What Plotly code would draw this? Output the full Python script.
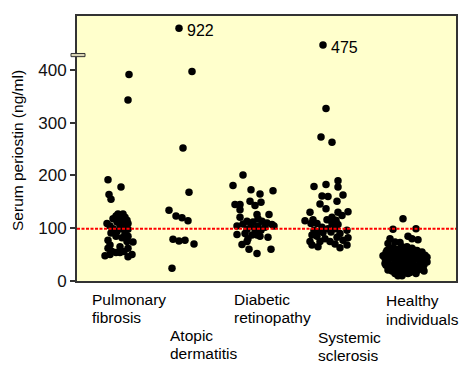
import plotly.graph_objects as go

# ---------------- data ----------------
GROUPS = ["Pulmonary fibrosis", "Atopic dermatitis", "Diabetic retinopathy",
          "Systemic sclerosis", "Healthy individuals"]
GROUP_X = [41, 105, 177, 250, 328]          # group centre on the x scale

PF_VALUES = [391, 343, 192, 178, 164, 155, 127, 127, 123, 121, 118, 118, 115, 112, 112,
             109, 109, 104, 104, 102, 99, 99, 98, 94, 91, 90, 85, 85, 82, 77, 75, 74,
             68, 65, 62, 62, 56, 56, 54, 54, 48, 50, 50, 46]
PF_JITTER = [11, 10, -10, 3, -9, -7, 0, 5, -2, 7, -5, 2, 9, -1, 4,
             -11, 10, -8, 2, 7, -5, 4, 10, -1, -7, 7, -2, 10, 4, -10, 9, 15,
             -8, 2, -10, 10, -6, 6, -2, 2, -13, -8, 14, 10]

AD_VALUES = [479, 397, 252, 168, 134, 123, 120, 114, 79, 76, 77, 70, 24]
AD_JITTER = [-3, 10, 1, 7, -13, -6, 0, 6, -9, -3, 3, 12, -10]

DR_VALUES = [201, 181, 173, 171, 165, 151, 149, 145, 145, 143, 135, 126, 126, 121, 118,
             113, 112, 113, 110, 108, 107, 104, 104, 104, 102, 104, 98, 98, 96, 88, 90,
             87, 87, 85, 83, 80, 69, 75, 60, 52, 60]
DR_JITTER = [-11, -21, -3, 19, 6, -4, 7, -19, -14, 1, -14, 15, 3, -14, 4,
             -7, -1, 8, 13, -11, 18, -17, -3, 4, 11, 20, 1, -7, 7, -17, -9,
             -2, 3, 6, 14, -6, -12, -7, -5, 3, 17]

SS_VALUES = [447, 327, 273, 263, 179, 183, 190, 178, 161, 160, 163, 151, 146, 137, 130,
             130, 131, 124, 121, 114, 116, 116, 115, 109, 109, 109, 107, 102, 99, 99, 96,
             96, 93, 92, 93, 90, 87, 85, 83, 80, 82, 75, 75, 75, 77, 70, 68, 65, 68, 63]
SS_JITTER = [-4, -1, -6, 5, -13, -1, 11, 11, -5, 1, 16, 10, -7, -1, -17,
             11, 21, 15, 5, -22, -14, 0, 9, -16, -10, 5, 11, -5, 1, 8, -13,
             20, -9, -4, 4, 13, -15, -10, 10, -2, 21, 3, -17, -7, 16, 8, -15, -9, 20, 13]

HI_VALUES = [118, 98, 99, 85, 80, 78, 80, 71, 74, 73, 65, 63, 58, 65, 62, 58, 55, 49,
             33, 21, 14, 10, 10, 14, 18, 24, 36,
             54, 56, 55, 57, 54, 53,
             49, 50, 48, 50, 47, 46, 45,
             43, 44, 42, 43, 41, 42, 40,
             37, 38, 36, 37, 35, 36, 38,
             30, 31, 32, 30, 31, 29, 31,
             25, 26, 24, 25, 26, 24,
             19, 20, 18, 19, 21, 19,
             15, 14, 16, 14,
             48, 61, 60, 60, 52, 58]
HI_JITTER = [-2, -12, 11, 3, 7, 13, -15, -17, -10, -5, -3, -12, -18, 2, 7, 12, 17, 20,
             -20, -17, -10, -7, -3, 3, 10, 18, 22,
             -19, -13, -6, 0, 6, 13,
             -16, -9, -3, 3, 9, 16, 22,
             -20, -13, -7, 0, 6, 12, 18,
             -17, -10, -4, 2, 8, 15, 21,
             -19, -12, -6, 1, 7, 13, 19,
             -15, -8, -2, 4, 10, 16,
             -13, -6, 0, 7, 13, 19,
             -9, -2, 5, 11,
             -22, -15, -8, 5, -1, 10]

CUTOFF = 99
Y_TICKS = [0, 100, 200, 300, 400]
OUTLIERS = [("922", 1, 0), ("475", 3, 0)]   # (label, group index, point index)

# ---------------- figure ----------------
PAGE_OFF = 8                     # default body margin of the html page
W, H = 473 - PAGE_OFF, 381 - PAGE_OFF
ML, MR, MT, MB = 77 - PAGE_OFF, 17, 14 - PAGE_OFF, 100
PW, PH = W - ML - MR, H - MT - MB


def px_x(px):
    return (px - PAGE_OFF - ML) / PW


def px_y(py):
    return (H - MB - (py - PAGE_OFF)) / PH


FONT = "Liberation Sans, Arial, sans-serif"

values = [PF_VALUES, AD_VALUES, DR_VALUES, SS_VALUES, HI_VALUES]
jitters = [PF_JITTER, AD_JITTER, DR_JITTER, SS_JITTER, HI_JITTER]

fig = go.Figure()
for name, gx, vals, jit in zip(GROUPS, GROUP_X, values, jitters):
    fig.add_trace(go.Scatter(
        x=[gx + j for j in jit], y=vals, mode="markers", name=name,
        marker=dict(size=7.5, color="black", line=dict(width=0)),
        showlegend=False, hoverinfo="y+name"))

annotations = []
for label, gi, pi in OUTLIERS:
    annotations.append(dict(
        x=GROUP_X[gi] + jitters[gi][pi] + 6, y=values[gi][pi] - 4,
        xref="x", yref="y", text=label, showarrow=False,
        xanchor="left", yanchor="middle",
        font=dict(family=FONT, size=16, color="black")))

# category labels (staggered, left aligned, two lines each)
LABEL_POS = [(90, 300, 318), (168, 336, 354), (232, 300, 318), (315.5, 338, 356), (384, 301, 319.5)]
for name, (lx, y1, y2) in zip(GROUPS, LABEL_POS):
    first, second = name.split(" ")
    for txt, yy in ((first, y1), (second, y2)):
        annotations.append(dict(
            x=px_x(lx), y=px_y(yy), xref="paper", yref="paper", text=txt,
            showarrow=False, xanchor="left", yanchor="middle",
            font=dict(family=FONT, size=15.5, color="black")))

annotations.append(dict(
    x=px_x(18), y=px_y(150), xref="paper", yref="paper",
    text="Serum periostin (ng/ml)", textangle=-90, showarrow=False,
    xanchor="center", yanchor="middle",
    font=dict(family=FONT, size=15.5, color="black")))

shapes = [
    dict(type="line", xref="paper", yref="y", x0=0, x1=1, y0=CUTOFF, y1=CUTOFF,
         line=dict(color="#ff0000", width=2, dash="3px,1.5px"), layer="above"),
    dict(type="rect", xref="paper", yref="y", x0=px_x(71), x1=px_x(85), y0=425, y1=431,
         fillcolor="#d8d3b4", line=dict(color="#333333", width=1), layer="above"),
]

fig.update_layout(
    width=W, height=H,
    margin=dict(l=ML, r=MR, t=MT, b=MB, pad=0),
    paper_bgcolor="white", plot_bgcolor="#ffffcc",
    font=dict(family=FONT, size=17, color="black"),
    xaxis=dict(range=[0, PW], showticklabels=False, ticks="", showgrid=False,
               zeroline=False, showline=True, mirror=True,
               linecolor="#333333", linewidth=2),
    yaxis=dict(range=[0, 502], tickvals=Y_TICKS, ticks="outside", ticklen=5,
               tickwidth=1.5, tickcolor="#333333", showgrid=False, zeroline=False,
               showline=True, mirror=True, linecolor="#333333", linewidth=2,
               tickfont=dict(family=FONT, size=17, color="#111111")),
    annotations=annotations, shapes=shapes,
)

fig.write_html("out.html")
